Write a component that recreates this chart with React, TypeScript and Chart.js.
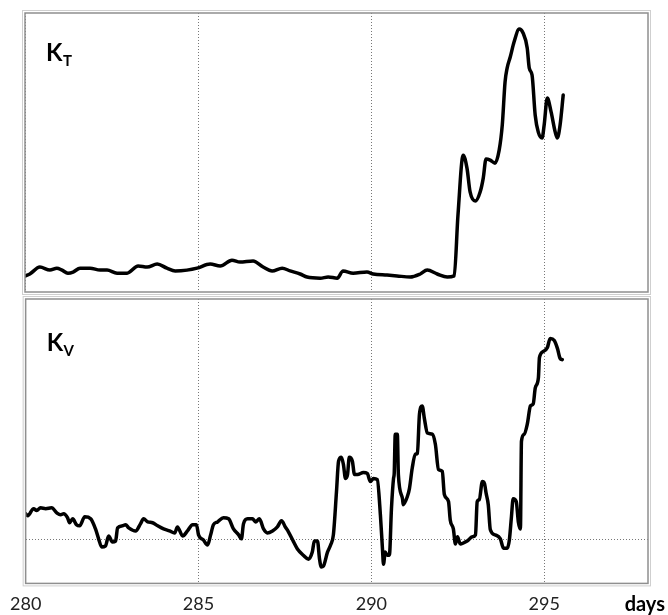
import React, { useEffect, useRef } from 'react';
import { Chart, registerables } from 'chart.js';

Chart.register(...registerables);

const DAY_MIN = 280;
const DAY_MAX = 298;
const DAY_TICKS = [280, 285, 290, 295];
const AXIS_TITLE = 'days';

const KT_DAYS = [280.03, 280.14, 280.43, 280.72, 280.92, 281.07, 281.24, 281.39, 281.59, 281.88, 282.17, 282.37, 282.66, 282.95, 283.27, 283.53, 283.82, 284.10, 284.34, 284.68, 284.97, 285.35, 285.64, 285.98, 286.21, 286.59, 286.88, 287.14, 287.43, 287.66, 287.95, 288.15, 288.53, 288.76, 289.02, 289.19, 289.48, 289.88, 290.06, 290.46, 290.75, 291.13, 291.42, 291.62, 291.91, 292.20, 292.40, 292.51, 292.66, 292.77, 292.86, 293.01, 293.15, 293.24, 293.32, 293.44, 293.58, 293.70, 293.79, 293.87, 293.93, 294.02, 294.13, 294.28, 294.39, 294.51, 294.57, 294.65, 294.74, 294.83, 294.94, 295.00, 295.09, 295.20, 295.32, 295.38, 295.46, 295.55];
const KT_VALUES = [5.2, 5.8, 8.3, 7.2, 7.9, 7.2, 6.1, 6.5, 7.9, 7.9, 7.2, 7.2, 6.1, 6.1, 8.7, 8.3, 9.4, 7.9, 6.9, 7.2, 7.9, 9.4, 8.7, 10.8, 10.1, 10.5, 8.3, 6.9, 7.9, 6.9, 5.8, 4.7, 4.3, 4.7, 4.3, 6.9, 6.1, 6.5, 5.8, 5.4, 5.1, 4.7, 5.8, 7.2, 5.8, 4.7, 5.1, 27.1, 48.7, 44.0, 35.4, 32.1, 35.4, 40.4, 47.3, 46.9, 45.8, 50.5, 59.6, 75.1, 80.1, 84.1, 89.5, 94.2, 92.8, 87.4, 80.1, 77.6, 63.2, 57.0, 54.9, 59.6, 69.3, 64.3, 57.0, 54.9, 59.6, 70.4];

const KV_DAYS = [280.00, 280.06, 280.23, 280.32, 280.43, 280.58, 280.75, 280.90, 281.01, 281.10, 281.21, 281.27, 281.36, 281.47, 281.56, 281.71, 281.88, 282.02, 282.11, 282.20, 282.31, 282.40, 282.51, 282.60, 282.66, 282.80, 282.89, 282.98, 283.18, 283.32, 283.41, 283.53, 283.67, 283.82, 283.99, 284.16, 284.31, 284.39, 284.54, 284.68, 284.83, 284.94, 285.00, 285.14, 285.26, 285.35, 285.43, 285.55, 285.72, 285.87, 286.01, 286.16, 286.24, 286.30, 286.42, 286.56, 286.65, 286.76, 286.88, 286.99, 287.14, 287.28, 287.40, 287.51, 287.60, 287.75, 287.86, 288.03, 288.18, 288.29, 288.35, 288.44, 288.50, 288.55, 288.61, 288.73, 288.82, 288.90, 288.99, 289.05, 289.13, 289.19, 289.25, 289.31, 289.36, 289.45, 289.51, 289.60, 289.77, 289.88, 289.97, 290.06, 290.17, 290.26, 290.32, 290.35, 290.40, 290.46, 290.52, 290.58, 290.64, 290.66, 290.69, 290.75, 290.78, 290.90, 290.92, 291.04, 291.10, 291.18, 291.27, 291.33, 291.39, 291.47, 291.53, 291.62, 291.76, 291.85, 291.94, 292.05, 292.11, 292.23, 292.28, 292.37, 292.43, 292.49, 292.57, 292.77, 292.92, 293.01, 293.06, 293.12, 293.21, 293.27, 293.32, 293.38, 293.44, 293.58, 293.73, 293.82, 293.93, 293.99, 294.05, 294.10, 294.19, 294.25, 294.31, 294.34, 294.42, 294.51, 294.60, 294.68, 294.74, 294.83, 294.86, 294.97, 295.09, 295.17, 295.29, 295.38, 295.46, 295.52];
const KV_VALUES = [9.3, 8.6, 11.1, 10.4, 11.4, 11.1, 11.4, 9.6, 8.9, 9.3, 7.9, 6.1, 7.5, 5.4, 5.0, 8.2, 7.5, 3.9, 0.4, -2.5, -2.1, 1.4, -0.7, -0.4, 4.3, 5.0, 5.4, 4.3, 3.2, 5.7, 7.5, 6.4, 6.1, 5.0, 3.9, 3.2, 2.5, 4.6, 1.4, 3.2, 5.4, 5.4, 1.8, 0.0, -1.8, 1.8, 5.4, 6.4, 7.9, 7.5, 3.9, 1.8, 0.4, 5.7, 7.5, 7.5, 6.4, 7.5, 3.9, 2.5, 3.2, 4.6, 6.8, 4.6, 2.9, -0.7, -3.2, -5.4, -6.8, -4.3, -0.4, -0.4, -6.8, -9.6, -9.3, -4.3, -1.8, 1.8, 17.1, 27.9, 29.3, 26.8, 21.8, 23.2, 29.3, 27.9, 23.2, 23.2, 23.9, 23.6, 20.7, 21.8, 21.4, 8.9, -3.2, -8.6, -4.3, -5.4, -5.4, 11.1, 21.8, 23.6, 37.5, 37.5, 23.2, 14.6, 12.5, 15.4, 18.2, 25.4, 30.4, 30.7, 44.6, 47.5, 43.2, 37.9, 37.5, 33.9, 25.0, 24.3, 16.1, 13.6, 7.1, 3.9, -1.4, 1.1, -1.4, -0.4, 1.1, 1.8, 13.6, 14.3, 20.7, 20.0, 16.4, 12.5, 3.6, 1.8, 0.4, -2.9, -2.9, 0.0, 8.2, 14.6, 13.6, 6.4, 3.9, 35.0, 37.5, 41.1, 47.5, 48.2, 53.9, 57.5, 64.6, 66.8, 68.2, 71.4, 70.7, 67.9, 64.3, 63.9];
const KV_REFERENCE_TICKS = [0];

const KT_RANGE = [-0.7, 100];
const KV_RANGE = [-15.4, 85.4];

const FONT = 'Lato, "Open Sans", sans-serif';

function panelPlugin(sub: string, labelDy: number, showTitle: boolean) {
  return {
    id: 'panelFrame' + sub,
    afterDraw(chart: any) {
      const { ctx, chartArea: a } = chart;
      ctx.save();
      ctx.strokeStyle = '#cfcfcf';
      ctx.lineWidth = 1;
      ctx.strokeRect(a.left - 2.5, a.top - 2.5, a.width + 5, a.height + 5);
      ctx.strokeStyle = '#8f8f8f';
      ctx.lineWidth = 1.5;
      ctx.strokeRect(a.left, a.top, a.width, a.height);
      ctx.fillStyle = '#000';
      ctx.textBaseline = 'alphabetic';
      ctx.textAlign = 'left';
      ctx.font = 'bold 24px ' + FONT;
      ctx.fillText('K', a.left + 21, a.top + labelDy);
      const w = ctx.measureText('K').width;
      ctx.font = 'bold 15px ' + FONT;
      ctx.fillText(sub, a.left + 21 + w + 0.5, a.top + labelDy + 5);
      if (showTitle) {
        ctx.font = 'bold 20px ' + FONT;
        ctx.textAlign = 'right';
        ctx.fillText(AXIS_TITLE, chart.width - 3, a.bottom + 28);
      }
      ctx.restore();
    },
  };
}

function xAxis(showTicks: boolean) {
  return {
    type: 'linear',
    min: DAY_MIN,
    max: DAY_MAX,
    afterBuildTicks: (axis: any) => {
      axis.ticks = DAY_TICKS.map((v) => ({ value: v }));
    },
    border: { display: false, dash: [1, 2] },
    grid: { color: '#777', lineWidth: 1, drawTicks: false },
    ticks: {
      display: showTicks,
      maxRotation: 0,
      autoSkip: false,
      padding: 10,
      color: '#222',
      font: { family: FONT, size: 18 },
      callback: (v: any) => String(v),
    },
  };
}

export default function App() {
  const topRef = useRef<HTMLCanvasElement>(null);
  const botRef = useRef<HTMLCanvasElement>(null);

  useEffect(() => {
    const lineStyle = {
      borderColor: '#000',
      borderWidth: 3.5,
      pointRadius: 0,
      tension: 0.3,
      cubicInterpolationMode: 'monotone' as const,
      borderJoinStyle: 'round' as const,
      borderCapStyle: 'round' as const,
      fill: false,
    };
    const top = new Chart(topRef.current!, {
      type: 'line',
      data: {
        datasets: [
          { ...lineStyle, label: 'KT', data: KT_DAYS.map((d, i) => ({ x: d, y: KT_VALUES[i] })) },
        ],
      },
      options: {
        responsive: false,
        animation: false,
        layout: { padding: { left: 25, right: 20, top: 13, bottom: 4 } },
        plugins: { legend: { display: false }, tooltip: { enabled: false } },
        scales: {
          x: xAxis(false) as any,
          y: { display: false, min: KT_RANGE[0], max: KT_RANGE[1] },
        },
      },
      plugins: [panelPlugin('T', 48, false)],
    });
    const bot = new Chart(botRef.current!, {
      type: 'line',
      data: {
        datasets: [
          { ...lineStyle, label: 'KV', data: KV_DAYS.map((d, i) => ({ x: d, y: KV_VALUES[i] })) },
        ],
      },
      options: {
        responsive: false,
        animation: false,
        layout: { padding: { left: 25, right: 20, top: 3, bottom: 2 } },
        plugins: { legend: { display: false }, tooltip: { enabled: false } },
        scales: {
          x: xAxis(true) as any,
          y: {
            display: true,
            min: KV_RANGE[0],
            max: KV_RANGE[1],
            afterBuildTicks: (axis: any) => {
              axis.ticks = KV_REFERENCE_TICKS.map((v) => ({ value: v }));
            },
            border: { display: false, dash: [1, 2] },
            grid: { color: '#777', lineWidth: 1, drawTicks: false },
            ticks: { display: false },
          } as any,
        },
      },
      plugins: [panelPlugin('V', 52, true)],
    });
    return () => {
      top.destroy();
      bot.destroy();
    };
  }, []);

  return (
    <div style={{ position: 'absolute', left: 0, top: 0, width: 668, height: 615, background: '#fff', overflow: 'hidden' }}>
      <canvas ref={topRef} width={668} height={296} style={{ display: 'block' }} />
      <canvas ref={botRef} width={668} height={331} style={{ display: 'block' }} />
    </div>
  );
}
